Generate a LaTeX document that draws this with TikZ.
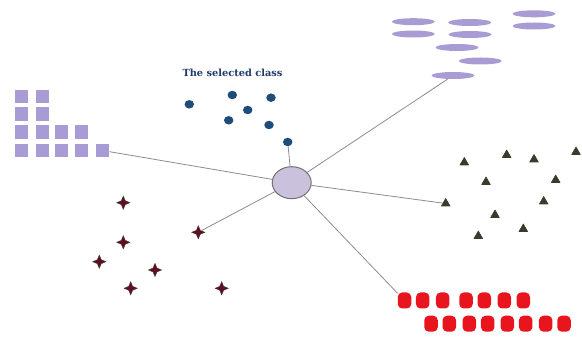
\documentclass[tikz,border=0pt]{standalone}
\usepackage{fontspec}
\newfontfamily\labelfont{DejaVu Serif}
\usetikzlibrary{shapes.geometric}

\definecolor{lav}{HTML}{A99BD3}
\definecolor{hubfill}{HTML}{CAC1DD}
\definecolor{hubedge}{HTML}{707070}
\definecolor{dotblue}{HTML}{1F4D7A}
\definecolor{navy}{HTML}{1F3A6B}
\definecolor{olivedark}{HTML}{3A3B2B}
\definecolor{starred}{HTML}{5E1020}
\definecolor{redblock}{HTML}{E8141E}
\definecolor{linegray}{HTML}{8C8C8C}

\begin{document}
\begin{tikzpicture}[x=1pt,y=-1pt,
  sq/.style={rectangle, fill=lav, inner sep=0, minimum size=13.5pt},
  bar/.style={ellipse, fill=lav, inner sep=0, minimum width=43pt, minimum height=7pt},
  dot/.style={ellipse, fill=dotblue, inner sep=0, minimum width=9.5pt, minimum height=8.5pt},
  tri/.style={regular polygon, regular polygon sides=3, fill=olivedark, draw=olivedark, line width=0.6pt, line join=round, inner sep=0, minimum size=10pt},
  spark/.style={star, star points=4, star point ratio=2.4, fill=starred, draw=black!75, line width=0.3pt, inner sep=0, minimum size=13.5pt},
  blk/.style={rectangle, rounded corners=4.5pt, fill=redblock, inner sep=0, minimum width=13.5pt, minimum height=16pt},
  link/.style={draw=linegray, line width=0.8pt},
  hub/.style={ellipse, fill=hubfill, draw=hubedge, line width=1pt, inner sep=0, minimum width=39pt, minimum height=32pt}]

\useasboundingbox (0,0) rectangle (582,339);

% central class
\node[hub] (hub) at (291.7,182.7) {};

% lavender squares, stepped block
\node[sq] (s11) at (21.5,96.5) {};
\node[sq] (s12) at (42.5,96.5) {};
\node[sq] (s21) at (21.5,114) {};
\node[sq] (s22) at (42.5,114) {};
\node[sq] (s31) at (21.5,132) {};
\node[sq] (s32) at (42.5,132) {};
\node[sq] (s33) at (61.5,132) {};
\node[sq] (s34) at (81.5,132) {};
\node[sq] (s41) at (21.5,150.5) {};
\node[sq] (s42) at (42.5,150.5) {};
\node[sq] (s43) at (61.5,150.5) {};
\node[sq] (s44) at (81.5,150.5) {};
\node[sq] (s45) at (102.5,150.5) {};

% the selected class: blue dots
\node[font=\labelfont\bfseries\fontsize{9.8}{11}\selectfont, text=navy] (title) at (232.5,73) {The selected class};
\node[dot] (d1) at (189.3,104.3) {};
\node[dot] (d2) at (232.3,95) {};
\node[dot] (d3) at (271,97.7) {};
\node[dot] (d4) at (247.7,110) {};
\node[dot] (d5) at (228.7,120.3) {};
\node[dot] (d6) at (269,125) {};
\node[dot] (d7) at (287.7,142) {};

% lavender bars
\node[bar] (b1) at (413.3,21.7) {};
\node[bar] (b2) at (469.7,22.5) {};
\node[bar] (b3) at (534,13.8) {};
\node[bar] (b4) at (413.3,34) {};
\node[bar] (b5) at (470,34.5) {};
\node[bar] (b6) at (534,26) {};
\node[bar] (b7) at (457,47.5) {};
\node[bar] (b8) at (480.3,61) {};
\node[bar] (b9) at (453,75.5) {};

% olive triangles
\node[tri] (t1) at (464.3,162.5) {};
\node[tri] (t2) at (506.7,155) {};
\node[tri] (t3) at (534,159.5) {};
\node[tri] (t4) at (576,152) {};
\node[tri] (t5) at (486,182) {};
\node[tri] (t6) at (555.7,180) {};
\node[tri] (t7) at (445.7,203.5) {};
\node[tri] (t8) at (543.7,201.5) {};
\node[tri] (t9) at (495,215) {};
\node[tri] (t10) at (523.3,229) {};
\node[tri] (t11) at (478.3,236) {};

% dark red sparks
\node[spark] (p1) at (123.3,202.7) {};
\node[spark] (p2) at (198.3,232.3) {};
\node[spark] (p3) at (123.3,242.3) {};
\node[spark] (p4) at (99.3,261.7) {};
\node[spark] (p5) at (155,270) {};
\node[spark] (p6) at (130.7,288.3) {};
\node[spark] (p7) at (221.7,288.3) {};

% red blocks, two rows
\node[blk] (r1) at (404.5,300.5) {};
\node[blk] (r2) at (422.7,300.5) {};
\node[blk] (r3) at (442.7,300.5) {};
\node[blk] (r4) at (466,300.5) {};
\node[blk] (r5) at (484.3,300.5) {};
\node[blk] (r6) at (504.3,300.5) {};
\node[blk] (r7) at (523.3,300.5) {};
\node[blk] (r8) at (431,323.7) {};
\node[blk] (r9) at (449.3,323.7) {};
\node[blk] (r10) at (469.3,323.7) {};
\node[blk] (r11) at (487.7,323.7) {};
\node[blk] (r12) at (507.3,323.7) {};
\node[blk] (r13) at (525.7,323.7) {};
\node[blk] (r14) at (545.7,323.7) {};
\node[blk] (r15) at (564,323.7) {};

% spokes to the central class
\draw[link] (s45) -- (hub);
\draw[link] (d7) -- (hub);
\draw[link] (b9) -- (hub);
\draw[link] (t7) -- (hub);
\draw[link] (r1) -- (hub);
\draw[link] (p2) -- (hub);
\end{tikzpicture}
\end{document}
